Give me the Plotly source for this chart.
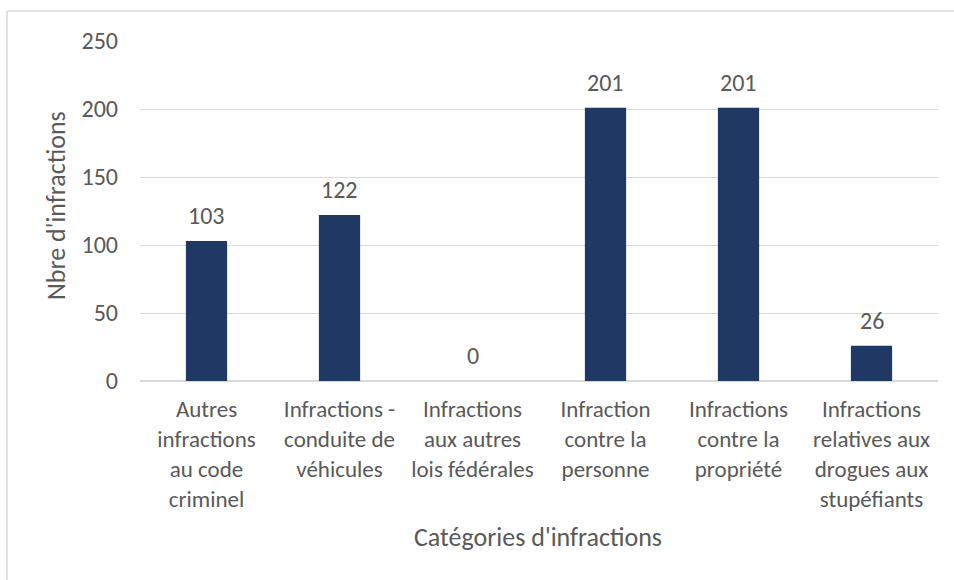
import plotly.graph_objects as go

categories = [
    "Autres<br>infractions<br>au code<br>criminel",
    "Infractions -<br>conduite de<br>véhicules",
    "Infractions<br>aux autres<br>lois fédérales",
    "Infraction<br>contre la<br>personne",
    "Infractions<br>contre la<br>propriété",
    "Infractions<br>relatives aux<br>drogues aux<br>stupéfiants",
]
counts = [103, 122, 0, 201, 201, 26]
y_ticks = [0, 50, 100, 150, 200, 250]

x_title = "Catégories d'infractions"
y_title = "Nbre d'infractions"

W, H = 954, 580
ML, MR, MT, MB = 140, 16, 41, 199
FONT = "Calibri, Carlito, Lato, sans-serif"
TXT = "#595959"
GRID = "#D9D9D9"
BAR = "#203864"
LABEL_SIZE = 23
NUM_SIZE = 24
TITLE_SIZE = 26

pw, ph = W - ML - MR, H - MT - MB


def px_x(x):
    return (x - ML) / pw


def px_y(y):
    return (H - MB - y) / ph


fig = go.Figure(
    go.Bar(
        x=categories,
        y=counts,
        marker=dict(color=BAR, line=dict(width=0)),
        width=0.31,
        hoverinfo="x+y",
    )
)

# value labels above each bar
for c, v in zip(categories, counts):
    fig.add_annotation(
        x=c, y=v, text=str(v), showarrow=False, xref="x", yref="y",
        yanchor="bottom", yshift=9,
        font=dict(family=FONT, size=NUM_SIZE, color=TXT),
    )

# axis titles
fig.add_annotation(
    x=px_x(538), y=px_y(537), xref="paper", yref="paper", text=x_title,
    showarrow=False, xanchor="center", yanchor="middle",
    font=dict(family=FONT, size=TITLE_SIZE, color=TXT),
)
fig.add_annotation(
    x=px_x(56), y=px_y(206), xref="paper", yref="paper", text=y_title,
    showarrow=False, xanchor="center", yanchor="middle", textangle=-90,
    font=dict(family=FONT, size=TITLE_SIZE, color=TXT),
)

# chart frame (top and left edges)
fig.add_shape(type="line", xref="paper", yref="paper",
              x0=px_x(7), x1=px_x(W + 5), y0=px_y(11), y1=px_y(11),
              line=dict(color=GRID, width=1.5))
fig.add_shape(type="line", xref="paper", yref="paper",
              x0=px_x(7), x1=px_x(7), y0=px_y(11), y1=px_y(H + 5),
              line=dict(color=GRID, width=1.5))

fig.update_layout(
    width=W, height=H,
    margin=dict(l=ML, r=MR, t=MT, b=MB, pad=0),
    paper_bgcolor="white", plot_bgcolor="white",
    showlegend=False,
    font=dict(family=FONT, size=LABEL_SIZE, color=TXT),
    xaxis=dict(
        showgrid=False, showline=False, ticks="",
        tickangle=0, ticklabelstandoff=12,
        tickfont=dict(family=FONT, size=LABEL_SIZE, color=TXT),
    ),
    yaxis=dict(
        range=[0, 250], tickvals=y_ticks, showgrid=True, gridcolor=GRID,
        gridwidth=1, zeroline=True, zerolinecolor=GRID, zerolinewidth=1.5,
        showline=False, ticks="", ticklabelstandoff=21,
        tickfont=dict(family=FONT, size=NUM_SIZE, color=TXT),
    ),
)

fig.write_html("out.html")
